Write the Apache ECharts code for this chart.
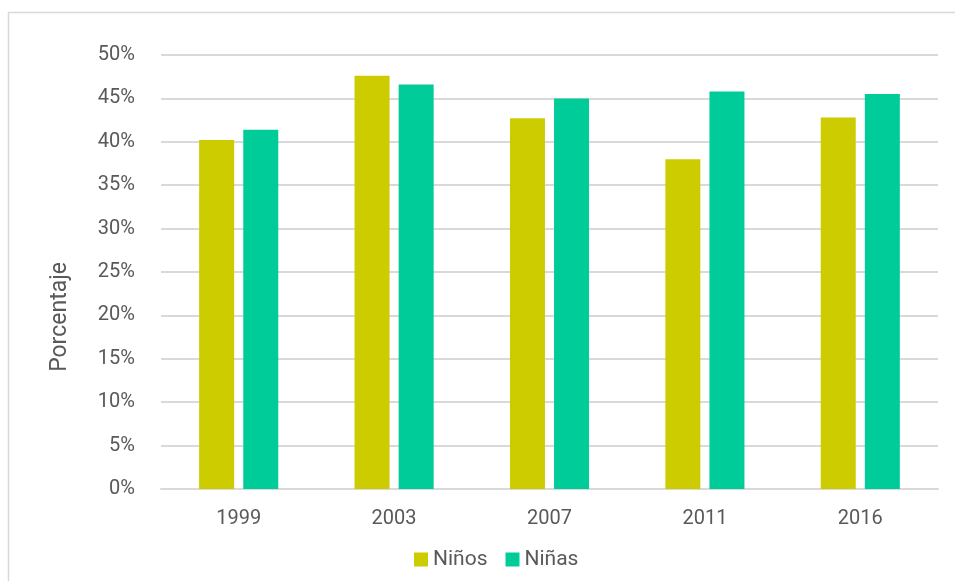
<!DOCTYPE html>
<html>
<head>
<meta charset="utf-8">
<script src="https://cdn.jsdelivr.net/npm/echarts@6/dist/echarts.min.js"></script>
<style>
html,body{margin:0;padding:0;background:#fff;}
#chart{width:955px;height:581px;}
</style>
</head>
<body>
<div id="chart"></div>
<script>
var categories = ['1999', '2003', '2007', '2011', '2016'];
var ninos = [40.2, 47.6, 42.7, 38.0, 42.8];
var ninas = [41.4, 46.6, 45.0, 45.8, 45.5];
var seriesNames = ['Niños', 'Niñas'];
var yAxisTitle = 'Porcentaje';

var textColor = '#595959';
var font = 'Roboto';
var chart = echarts.init(document.getElementById('chart'));
chart.setOption({
  animation: false,
  backgroundColor: '#ffffff',
  textStyle: { fontFamily: font },
  graphic: [
    { type: 'rect', shape: { x: 8.5, y: 12.5, width: 960, height: 600 }, style: { fill: 'none', stroke: '#d9d9d9', lineWidth: 1.5 }, silent: true },
    { type: 'text', x: 49, y: 317, rotation: Math.PI / 2, style: { text: yAxisTitle, fill: textColor, font: '23px Roboto', align: 'center', verticalAlign: 'top' } }
  ],
  legend: {
    bottom: 6,
    left: 409,
    itemWidth: 14,
    itemHeight: 14,
    itemGap: 18,
    icon: 'rect',
    textStyle: { color: textColor, fontSize: 21, fontFamily: font },
    data: seriesNames
  },
  grid: { left: 161, right: 17, top: 55, bottom: 92, containLabel: false },
  xAxis: {
    type: 'category',
    data: categories,
    axisLine: { lineStyle: { color: '#d9d9d9', width: 2 } },
    axisTick: { show: false },
    axisLabel: { color: textColor, fontSize: 20, fontFamily: font, margin: 20 }
  },
  yAxis: {
    type: 'value',
    min: 0, max: 50, interval: 5,
    axisLine: { show: false },
    axisTick: { show: false },
    splitLine: { lineStyle: { color: '#d9d9d9', width: 2 } },
    axisLabel: { color: textColor, fontSize: 20, fontFamily: font, margin: 26, formatter: '{value}%' }
  },
  series: [
    { name: seriesNames[0], type: 'bar', data: ninos, barWidth: 35, barGap: '26%', itemStyle: { color: '#cccc00' } },
    { name: seriesNames[1], type: 'bar', data: ninas, barWidth: 35, barGap: '26%', itemStyle: { color: '#00cc99' } }
  ]
});
</script>
</body>
</html>
